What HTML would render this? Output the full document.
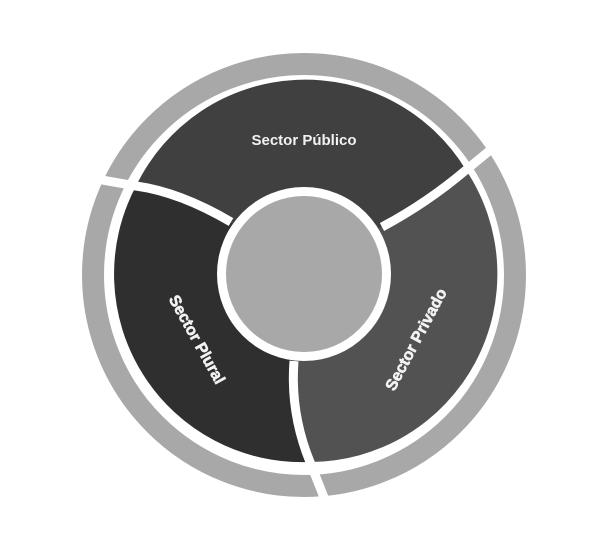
<!DOCTYPE html>
<html><head><meta charset="utf-8"><style>
html,body{margin:0;padding:0;background:#fff;width:607px;height:545px;overflow:hidden}
svg{display:block}
text{font-family:"Liberation Sans",sans-serif;font-weight:bold;fill:#f2f2f2}
</style></head><body>
<svg width="607" height="545" viewBox="0 0 607 545">
<circle cx="304" cy="275" r="211" fill="none" stroke="#a8a8a8" stroke-width="22"/>
<path d="M304 275 L382 227 Q427 203 466 170 A188 188 0 0 0 136 186 Q180 192 231 222 Z" fill="#404040"/>
<path d="M304 275 L294 361 Q290 413 310 462 A188 188 0 0 0 466 170 Q427 203 382 227 Z" fill="#525252"/>
<path d="M304 275 L231 222 Q180 192 136 186 A188 188 0 0 0 310 462 Q290 413 294 361 Z" fill="#2f2f2f"/>
<g fill="none" stroke="#fff" stroke-width="9">
<path d="M382 227 Q427 203 466 170 L505 138"/>
<path d="M231 222 Q180 192 136 186 L85 177"/>
<path d="M294 361 Q290 413 310 462 L325 500"/>
</g>
<circle cx="304" cy="274" r="87" fill="#fff"/>
<circle cx="304" cy="274" r="78" fill="#a8a8a8"/>
<text x="304" y="145" font-size="15" text-anchor="middle">Sector Público</text>
<text transform="translate(196,340) rotate(61)" font-size="16" text-anchor="middle" dominant-baseline="middle" stroke="#f2f2f2" stroke-width="0.6">Sector Plural</text>
<text transform="translate(417,340) rotate(-62)" font-size="16" text-anchor="middle" dominant-baseline="middle" stroke="#f2f2f2" stroke-width="0.6">Sector Privado</text>
</svg>
</body></html>
